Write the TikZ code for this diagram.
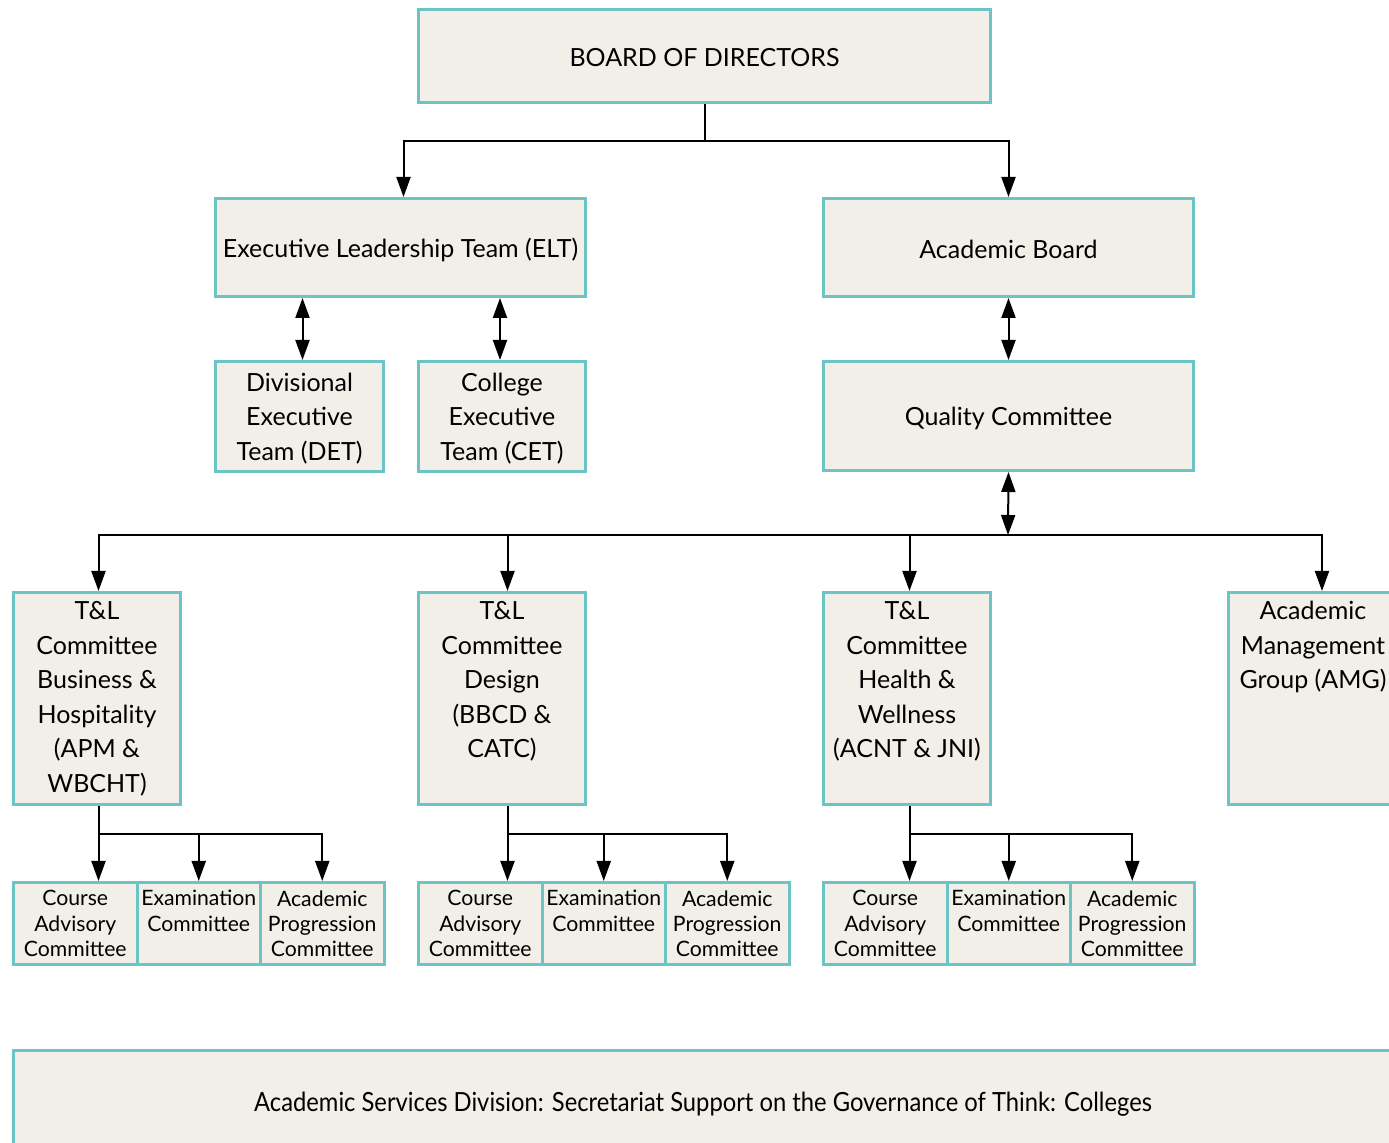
\documentclass[tikz,border=0pt]{standalone}
\usepackage{fontspec}
\setmainfont{Lato}
\newfontfamily\narrowfont[FakeStretch=0.9]{Lato}
\usetikzlibrary{arrows.meta}

\definecolor{boxfill}{RGB}{241,239,232}
\definecolor{boxline}{RGB}{108,196,197}

\tikzset{
  orgbox/.style={draw=boxline, fill=boxfill, line width=1.5pt, inner sep=0pt,
    anchor=north west},
  maintext/.style={align=center, font=\fontsize{12.5}{17.25}\selectfont},
  subtext/.style={align=center, font=\fontsize{10.6}{12.7}\selectfont},
  arr/.style={line width=1pt, -{Triangle[length=10pt, width=7pt]}},
  dblarr/.style={line width=1pt, {Triangle[length=10pt, width=7pt]}-{Triangle[length=10pt, width=7pt]}},
}

% box from (x1,y1) to (x2,y2) in pixels
\newcommand{\orgnode}[6]{%
  \node[orgbox, minimum width={(#4-#2)*0.5pt}, minimum height={(#5-#3)*0.5pt}]
    (#1) at (#2,#3) {};
  \node[maintext] at ([yshift=-1pt]#1.center) {#6};%
}
\newcommand{\orgtopnode}[6]{%
  \node[orgbox, minimum width={(#4-#2)*0.5pt}, minimum height={(#5-#3)*0.5pt}]
    (#1) at (#2,#3) {};
  \node[maintext, anchor=north, inner sep=5pt] at (#1.north) {#6};%
}

\begin{document}
\begin{tikzpicture}[x=0.5pt, y=-0.5pt]
  \useasboundingbox (0,0) rectangle (1389,1143);

  %
  % Boxes
  %
  \orgnode{board}{417}{8}{989}{101}{BOARD OF DIRECTORS}
  \orgnode{elt}{214}{197}{584}{295}{Executive Leadership Team (ELT)}
  \orgnode{acb}{822}{197}{1192}{295}{Academic Board}
  \orgnode{det}{214}{360}{382}{470}{Divisional\\Executive\\Team (DET)}
  \orgnode{cet}{417}{360}{584}{470}{College\\Executive\\Team (CET)}
  \orgnode{qc}{822}{360}{1192}{469}{Quality Committee}

  \orgtopnode{tl1}{12}{591}{179}{803}{T\&L\\Committee\\Business \&\\Hospitality\\(APM \&\\WBCHT)}
  \orgtopnode{tl2}{417}{591}{584}{803}{T\&L\\Committee\\Design\\(BBCD \&\\CATC)}
  \orgtopnode{tl3}{822}{591}{989}{803}{T\&L\\Committee\\Health \&\\Wellness\\(ACNT \& JNI)}
  \orgtopnode{amg}{1227}{591}{1396}{803}{Academic\\Management\\Group (AMG)}

  % Sub-committees under each T&L committee
  \foreach \i/\xo in {1/12, 2/417, 3/822}{
    \node[orgbox, minimum width=61.75pt, minimum height=41pt] (ca\i) at (\xo,881) {};
    \node[orgbox, minimum width=61.75pt, minimum height=41pt] (ex\i) at (\xo+123.5,881) {};
    \node[orgbox, minimum width=61.75pt, minimum height=41pt] (ap\i) at (\xo+247,881) {};
    \node[subtext, anchor=north, inner sep=4.5pt] at (ca\i.north) {Course\\Advisory\\Committee};
    \node[subtext, anchor=north, inner sep=4.5pt] at (ex\i.north) {Examination\\Committee};
    \node[subtext, anchor=north, inner sep=4.5pt] at (ap\i.north) {Academic\\Progression\\Committee};
  }

  \node[orgbox, minimum width=700pt, minimum height=52pt] (asd) at (12,1049) {};
  \node[font=\narrowfont\fontsize{13.2}{16}\selectfont] at (703,1104) {Academic Services Division: Secretariat Support on the Governance of Think: Colleges};

  %
  % Connectors
  %
  \draw[arr] (board.south) -- ++(0,37) -| ([xshift=1.5pt]elt.north);
  \draw[arr] (board.south) -- ++(0,37) -| (acb.north);

  \draw[dblarr] ([xshift=1.5pt]elt.south -| det.north) -- ([xshift=1.5pt]det.north);
  \draw[dblarr] ([xshift=-1pt]elt.south -| cet.north) -- ([xshift=-1pt]cet.north);
  \draw[dblarr] (acb.south) -- (qc.north);

  \coordinate (bus) at (1008,535);
  \coordinate (in1) at ([xshift=0.75pt]tl1.north);
  \coordinate (in2) at ([xshift=2.75pt]tl2.north);
  \coordinate (in3) at ([xshift=1.25pt]tl3.north);
  \draw[dblarr] (qc.south) -- (bus);
  \draw[arr] (bus) -| (in1);
  \draw[arr] (bus) -| (in2);
  \draw[arr] (bus) -| (in3);
  \draw[arr] (bus) -| ([xshift=4.5pt]amg.north);

  \foreach \i in {1,2,3}{
    \draw[line width=1pt] (in\i |- tl\i.south) -- ++(0,28) coordinate (split\i);
    \draw[arr] (split\i) -- (split\i |- ca\i.north);
    \draw[arr] (split\i) -| (ex\i.north);
    \draw[arr] (split\i) -| (ap\i.north);
  }

\end{tikzpicture}
\end{document}
